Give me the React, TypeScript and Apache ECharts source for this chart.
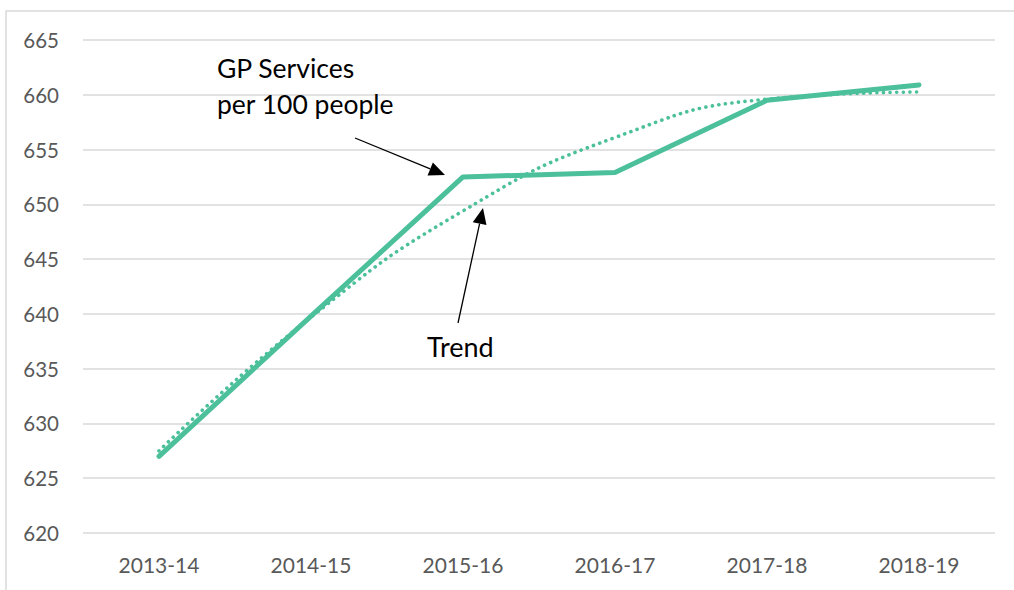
import React, { useEffect, useRef } from "react";
import * as echarts from "echarts";

const categories = ["2013-14", "2014-15", "2015-16", "2016-17", "2017-18", "2018-19"];
const gpServices = [627.0, 639.8, 652.5, 652.9, 659.5, 660.9];
const trend = [627.5, 639.7, 649.4, 656.1, 659.6, 660.25];
const yMin = 620;
const yMax = 665;
const yStep = 5;

const GREEN = "#4BC09A";
const FONT = "Lato, 'Noto Sans', sans-serif";

function arrow(x1: number, y1: number, x2: number, y2: number) {
  const len = 16;
  const half = 7;
  const dx = x2 - x1;
  const dy = y2 - y1;
  const d = Math.sqrt(dx * dx + dy * dy);
  const ux = dx / d;
  const uy = dy / d;
  const bx = x2 - ux * len;
  const by = y2 - uy * len;
  return [
    {
      type: "line",
      shape: { x1, y1, x2: bx, y2: by },
      style: { stroke: "#000", lineWidth: 1.3 },
      z: 100,
    },
    {
      type: "polygon",
      shape: {
        points: [
          [x2, y2],
          [bx - uy * half, by + ux * half],
          [bx + uy * half, by - ux * half],
        ],
      },
      style: { fill: "#000" },
      z: 100,
    },
  ];
}

export default function App() {
  const ref = useRef<HTMLDivElement>(null);
  useEffect(() => {
    document.body.style.margin = "0";
    if (!ref.current) return;
    const chart = echarts.init(ref.current, undefined, { renderer: "svg" });
    chart.setOption({
      animation: false,
      backgroundColor: "#fff",
      grid: { left: 83, right: 19, top: 40, bottom: 57, containLabel: false },
      xAxis: {
        type: "category",
        data: categories,
        boundaryGap: true,
        axisLine: { show: false },
        axisTick: { show: false },
        axisLabel: { color: "#595959", fontSize: 21, fontFamily: FONT, margin: 21 },
      },
      yAxis: {
        type: "value",
        min: yMin,
        max: yMax,
        interval: yStep,
        axisLine: { show: false },
        axisTick: { show: false },
        axisLabel: { color: "#595959", fontSize: 20.5, fontFamily: FONT, margin: 24 },
        splitLine: { lineStyle: { color: "#d9d9d9", width: 1.5 } },
      },
      series: [
        {
          name: "Trend",
          type: "line",
          data: trend,
          smooth: true,
          symbol: "none",
          lineStyle: { color: GREEN, width: 3.6, type: [0.1, 6.5], cap: "round" },
          z: 2,
        },
        {
          name: "GP Services per 100 people",
          type: "line",
          data: gpServices,
          symbol: "none",
          lineStyle: { color: GREEN, width: 5, cap: "round", join: "round" },
          z: 3,
        },
      ],
      graphic: [
        {
          type: "rect",
          shape: { x: 6, y: 11, width: 1100, height: 700 },
          style: { fill: "none", stroke: "#d9d9d9", lineWidth: 1.5 },
          silent: true,
          z: 0,
        },
        {
          type: "text",
          x: 217,
          y: 50,
          style: {
            text: "GP Services\nper 100 people",
            fill: "#000",
            font: `26.5px ${FONT}`,
            lineHeight: 36,
          },
          z: 100,
        },
        {
          type: "text",
          x: 427,
          y: 333,
          style: { text: "Trend", fill: "#000", font: `27px ${FONT}` },
          z: 100,
        },
        ...arrow(355, 138, 445, 175),
        ...arrow(458, 323, 483, 208),
      ],
    });
    return () => chart.dispose();
  }, []);
  return <div ref={ref} style={{ width: 1014, height: 590 }} />;
}
